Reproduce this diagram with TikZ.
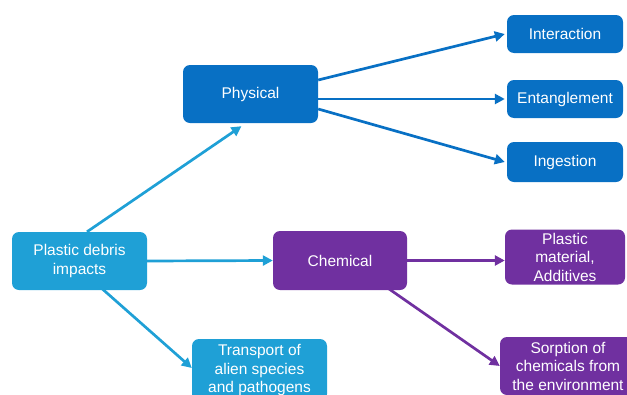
\documentclass[tikz,border=0pt]{standalone}
\usepackage{fontspec}
\setmainfont{Liberation Sans}
\usetikzlibrary{arrows.meta}
\definecolor{lblue}{HTML}{1FA0D6}
\definecolor{dblue}{HTML}{0870C4}
\definecolor{purp}{HTML}{7030A0}
\begin{document}
\begin{tikzpicture}[x=1pt,y=-1pt,
  box/.style={rounded corners=7pt, text=white, align=center, inner sep=0pt,
    font=\fontsize{15.5}{18.5}\selectfont},
  conn/.style={-{Triangle[length=10pt,width=10pt]}, line width=2.7pt},
]
\useasboundingbox (0,0) rectangle (627,394);
\node[box, fill=lblue, minimum width=135pt, minimum height=58pt] (pd) at (79.5,261) {Plastic debris\\impacts};
\node[box, fill=dblue, minimum width=135pt, minimum height=58pt] (ph) at (250.5,94) {Physical};
\node[box, fill=dblue, minimum width=116pt, minimum height=38pt] (int) at (565,34) {Interaction};
\node[box, fill=dblue, minimum width=116pt, minimum height=38pt] (ent) at (565,99) {Entanglement};
\node[box, fill=dblue, minimum width=116pt, minimum height=40pt] (ing) at (565,162) {Ingestion};
\node[box, fill=purp, minimum width=134pt, minimum height=59pt] (ch) at (340,260.5) {Chemical};
\node[box, fill=purp, minimum width=120pt, minimum height=55pt] (pm) at (565,257) {Plastic\\material,\\Additives};
\node[box, fill=purp, minimum width=136pt, minimum height=58pt] (so) at (568,366) {Sorption of\\chemicals from\\the environment};
\node[box, fill=lblue, minimum width=135pt, minimum height=62pt] (tr) at (259.5,370) {Transport of\\alien species\\and pathogens};

\draw[conn, lblue] ([xshift=7.5pt]pd.north) -- ([xshift=-9pt,yshift=-3pt]ph.south);
\draw[conn, lblue] (pd.east) -- (ch.west);
\draw[conn, lblue] ([xshift=22pt,yshift=2pt]pd.south) -- ([yshift=2pt]tr.west);
\draw[conn, dblue] ([yshift=14pt]ph.east) -- ([xshift=-2pt]int.west);
\draw[conn, dblue] (ph.east |- ent.west) -- ([xshift=-2pt]ent.west);
\draw[conn, dblue] ([yshift=-15pt]ph.east) -- ([xshift=-2pt]ing.west);
\draw[conn, purp] (ch.east) -- (ch.east -| pm.west);
\draw[conn, purp] ([xshift=48pt,yshift=2pt]ch.south) -- (so.west);
\end{tikzpicture}
\end{document}
